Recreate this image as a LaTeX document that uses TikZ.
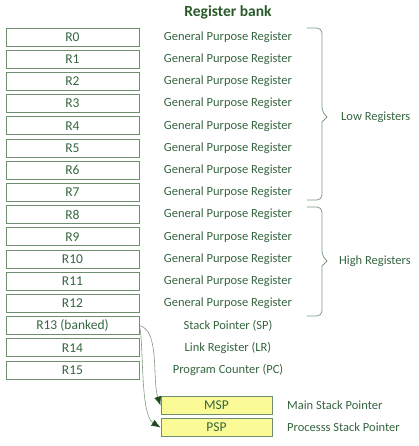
\documentclass[tikz,border=0pt]{standalone}
\usepackage{fontspec}
\setmainfont{Carlito}
\usetikzlibrary{arrows.meta}
\definecolor{txtgreen}{HTML}{35653F}
\definecolor{titlegreen}{HTML}{2A5A2A}
\definecolor{boxgreen}{HTML}{6E8E6E}
\definecolor{linegreen}{HTML}{7F9A7F}
\definecolor{tipgreen}{HTML}{1F4A1F}
\definecolor{yel}{HTML}{FAFA96}
\tikzset{
  regbox/.style={draw=boxgreen, line width=0.9pt, minimum width=133pt, minimum height=18pt, inner sep=0pt, text=txtgreen, font=\fontsize{13.5}{15}\selectfont},
  spbox/.style={regbox, fill=yel, minimum width=111pt},
  desc/.style={text=txtgreen, font=\fontsize{12.5}{14}\selectfont, inner sep=0pt},
  brace/.style={draw=linegreen, line width=0.8pt, rounded corners=5pt},
  conn/.style={draw=linegreen, line width=0.6pt, -{Latex[length=9pt,width=7pt,color=tipgreen]}}
}
\begin{document}
\begin{tikzpicture}[x=1pt,y=-1pt]
\useasboundingbox (0,0) rectangle (419,446);
\node[text=titlegreen, font=\fontsize{15.5}{17}\selectfont\bfseries, inner sep=0pt] (title) at (228,12) {Register bank};
\foreach \i/\lab/\d in {0/R0/General Purpose Register,1/R1/General Purpose Register,2/R2/General Purpose Register,3/R3/General Purpose Register,4/R4/General Purpose Register,5/R5/General Purpose Register,6/R6/General Purpose Register,7/R7/General Purpose Register,8/R8/General Purpose Register,9/R9/General Purpose Register,10/R10/General Purpose Register,11/R11/General Purpose Register,12/R12/General Purpose Register,13/R13 (banked)/Stack Pointer (SP),14/R14/Link Register (LR),15/R15/Program Counter (PC)}{
  \node[regbox] (r\i) at (72.5,{37+22.2*\i}) {\lab};
  \node[desc] (d\i) at (228,{37+22.2*\i}) {\d};
}
% braces
\draw[brace] (307,28) -- (322,28) -- (322,112) [sharp corners] -- (327,117) -- (322,122) [rounded corners=5pt] -- (322,200) -- (307,200);
\draw[brace] (307,207) -- (322,207) -- (322,256) [sharp corners] -- (327,261) -- (322,266) [rounded corners=5pt] -- (322,316) -- (307,316);
\node[desc, anchor=west] (low) at (341,117) {Low Registers};
\node[desc, anchor=west] (high) at (339,261) {High Registers};
% stack pointers
\node[spbox] (msp) at (216.5,405.5) {MSP};
\node[spbox] (psp) at (216.5,427.5) {PSP};
\node[desc, anchor=west] (mspd) at (287,405.5) {Main Stack Pointer};
\node[desc, anchor=west] (pspd) at (287,427.5) {Processs Stack Pointer};
\draw[conn] (r13.east) .. controls (160,330) and (152,380) .. (msp.west);
\draw[conn] (r13.east) .. controls (144,345) and (140,415) .. (psp.west);
\end{tikzpicture}
\end{document}
